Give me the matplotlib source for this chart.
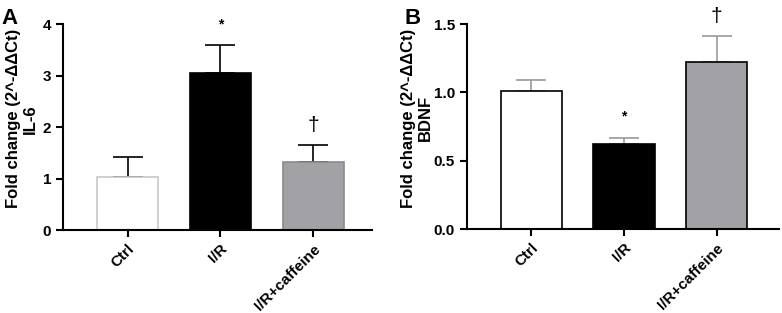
import matplotlib
matplotlib.use('Agg')
import matplotlib.pyplot as plt
import numpy as np

plt.rcParams['font.family'] = ['Liberation Sans', 'DejaVu Sans']
plt.rcParams['font.weight'] = 'bold'

groups = ['Ctrl', 'I/R', 'I/R+caffeine']
il6_mean = [1.04, 3.05, 1.32]
il6_err = [0.37, 0.54, 0.33]
bdnf_mean = [1.01, 0.62, 1.22]
bdnf_err = [0.08, 0.05, 0.19]
il6_marks = ['', '*', '†']
bdnf_marks = ['', '*', '†']

face_colors = ['white', 'black', '#a2a2a6']
edges_a = ['#c8c8c8', 'black', '#8a8a8a']
edges_b = ['black', 'black', 'black']

fig = plt.figure(figsize=(7.82, 3.13), dpi=100)
ax_a = fig.add_axes([0.0806, 0.265, 0.395, 0.658])
ax_b = fig.add_axes([0.597, 0.268, 0.399, 0.655])


def draw_panel(ax, means, errs, marks, ylim, yticks, ylabel, letter, xlim,
               edges, err_color, label_x):
    x = np.arange(len(groups))
    for i in range(len(groups)):
        ax.bar(x[i], means[i], width=0.66, color=face_colors[i],
               edgecolor=edges[i], linewidth=1.2, zorder=2)
        ax.errorbar(x[i], means[i], yerr=[[0], [errs[i]]], fmt='none',
                    ecolor=err_color, elinewidth=1.2,
                    capsize=11, capthick=1.2, zorder=1)
    for i, m in enumerate(marks):
        if m == '*':
            ax.annotate(m, (x[i], means[i] + errs[i]), xytext=(0, 14),
                        textcoords='offset pixels', ha='center', va='bottom',
                        fontsize=10)
        elif m:
            ax.annotate(m, (x[i], means[i] + errs[i]), xytext=(0, 10),
                        textcoords='offset pixels', ha='center', va='bottom',
                        fontsize=15, fontweight='normal')
    ax.set_xlim(xlim)
    ax.set_ylim(ylim)
    ax.set_yticks(yticks)
    ax.set_xticks(x)
    ax.set_xticklabels(groups, rotation=45, ha='right', rotation_mode='anchor',
                       fontsize=11, fontweight='bold')
    ax.tick_params(axis='both', direction='out', width=1.5, length=5)
    ax.tick_params(axis='y', labelsize=11)
    for lab in ax.get_yticklabels():
        lab.set_fontweight('bold')
    for s in ['top', 'right']:
        ax.spines[s].set_visible(False)
    for s in ['left', 'bottom']:
        ax.spines[s].set_linewidth(1.5)
    ax.set_ylabel(ylabel, fontsize=12, fontweight='bold', linespacing=1.2)
    ax.yaxis.set_label_coords(label_x, 0.54)
    ax.text(-0.2, 1.08, letter, transform=ax.transAxes, fontsize=16,
            fontweight='bold', va='top', ha='left')


draw_panel(ax_a, il6_mean, il6_err, il6_marks, (0, 4), [0, 1, 2, 3, 4],
           'Fold change (2^-ΔΔCt)\nIL-6', 'A', (-0.694, 2.63), edges_a, 'black',
           -0.08)
ax_a.set_yticklabels(['0', '1', '2', '3', '4'])
draw_panel(ax_b, bdnf_mean, bdnf_err, bdnf_marks, (0, 1.5), [0, 0.5, 1.0, 1.5],
           'Fold change (2^-ΔΔCt)\nBDNF', 'B', (-0.694, 2.67), edges_b, '#999999',
           -0.108)
ax_b.set_yticklabels(['0.0', '0.5', '1.0', '1.5'])

fig.savefig('out.png', dpi=100)
